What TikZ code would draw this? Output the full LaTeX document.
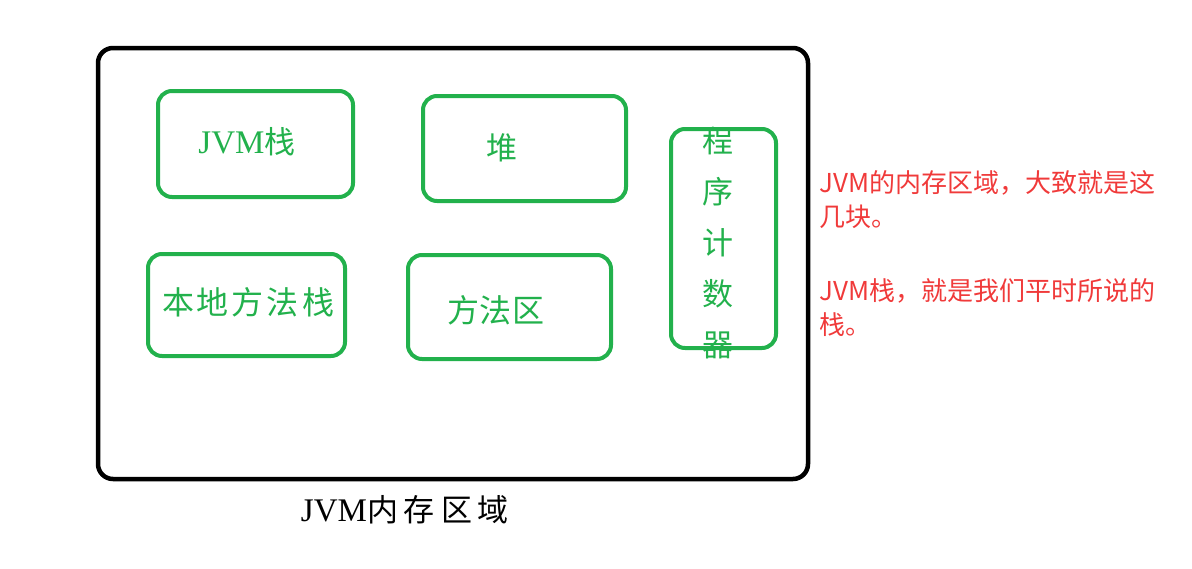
\documentclass[tikz,border=0pt]{standalone}
\usepackage{fontspec}
\setmainfont{Liberation Serif}
\newfontfamily\cjk{Noto Sans CJK SC}
\begin{document}
\begin{tikzpicture}[x=1pt,y=-1pt]
\definecolor{jgreen}{HTML}{22B14C}
\definecolor{jred}{HTML}{F03A3A}
\tikzset{
  area/.style={draw=black, line width=4.5pt, rounded corners=15pt, inner sep=0pt},
  part/.style={draw=jgreen, line width=4pt, rounded corners=14pt, inner sep=0pt},
  gtext/.style={text=jgreen, font=\fontsize{33}{36}\selectfont, inner sep=0pt},
  note/.style={text=jred, font=\cjk\fontsize{26}{34}\selectfont, align=left, anchor=west, inner sep=0pt},
  caption/.style={text=black, font=\fontsize{33}{36}\selectfont, inner sep=0pt}
}
\useasboundingbox (0,0) rectangle (1192,568);
% outer area
\node[area, minimum width=710pt, minimum height=431pt] (jvm) at (453,263.5) {};
% parts
\node[part, minimum width=195pt, minimum height=106pt] (stackbox) at (255.5,144) {};
\node[part, minimum width=203pt, minimum height=105pt] (heapbox) at (524.5,148.5) {};
\node[part, minimum width=105pt, minimum height=219pt] (pcbox) at (723.5,238.5) {};
\node[part, minimum width=197pt, minimum height=102pt] (nativebox) at (246.5,305) {};
\node[part, minimum width=203pt, minimum height=104pt] (methodbox) at (509.5,307) {};
% green labels
\node[gtext] (stacklbl) at (247,142) {JVM{\cjk\fontsize{31}{36}\selectfont 栈}};
\node[gtext] (heaplbl) at (502,148) {\cjk\fontsize{31}{36}\selectfont 堆};
\node[gtext, font=\cjk\fontsize{31}{51}\selectfont, align=center] (pclbl) at (718,243) {程\\序\\计\\数\\器};
\node[gtext, font=\cjk\fontsize{32}{36}\selectfont] (nativelbl) at (248,302) {本\hspace{3pt}地\hspace{3pt}方\hspace{3pt}法\hspace{3pt}栈};
\node[gtext, font=\cjk\fontsize{32}{36}\selectfont] (methodlbl) at (496,310) {方\hspace{1pt}法\hspace{1pt}区};
% caption
\node[caption] (cap) at (405,510) {JVM{\cjk\fontsize{31}{36}\selectfont 内\hspace{6pt}存\hspace{6pt}区\hspace{6pt}域}};
% notes
\node[note] (note1) at (819,200) {JVM的内存区域，大致就是这\\几块。};
\node[note] (note2) at (819,308) {JVM栈，就是我们平时所说的\\栈。};
\end{tikzpicture}
\end{document}
